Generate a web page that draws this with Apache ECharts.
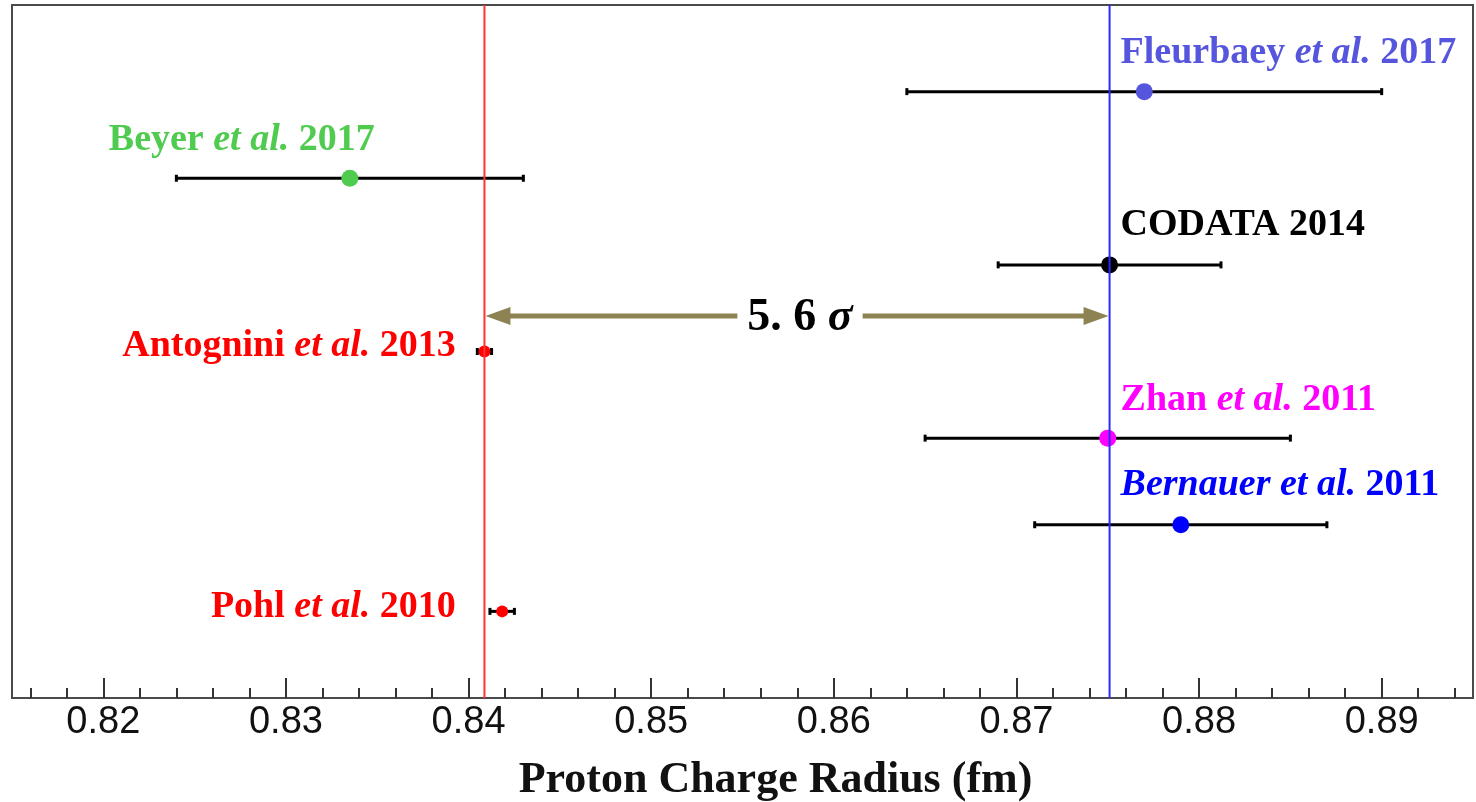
<!DOCTYPE html>
<html>
<head>
<meta charset="utf-8">
<script src="https://cdn.jsdelivr.net/npm/echarts@6/dist/echarts.min.js"></script>
<style>
  html, body { margin: 0; padding: 0; background: #fff; }
  #chart { width: 1476px; height: 802px; }
</style>
</head>
<body>
<div id="chart"></div>
<script>
// measurements, top row first
const authors = ['Fleurbaey', 'Beyer', 'CODATA', 'Antognini', 'Zhan', 'Bernauer', 'Pohl'];
const hasEtAl = [true, true, false, true, true, true, true];
const years = ['2017', '2017', '2014', '2013', '2011', '2011', '2010'];
const radius = [0.8770, 0.8335, 0.8751, 0.84087, 0.8750, 0.8790, 0.84184];
const uncertainty = [0.0130, 0.0095, 0.0061, 0.00039, 0.0100, 0.0080, 0.00067];
const rows = [7, 6, 5, 4, 3, 2, 1];

// axis ticks
const tickValues = [0.82, 0.83, 0.84, 0.85, 0.86, 0.87, 0.88, 0.89];
const minorTickValues = [0.816, 0.818, 0.822, 0.824, 0.826, 0.828, 0.832, 0.834, 0.836, 0.838,
  0.842, 0.844, 0.846, 0.848, 0.852, 0.854, 0.856, 0.858, 0.862, 0.864, 0.866, 0.868,
  0.872, 0.874, 0.876, 0.878, 0.882, 0.884, 0.886, 0.888, 0.892, 0.894];

// discrepancy between muonic (Antognini) and CODATA
const sigmaText = '5. 6';
const sigmaRow = 4.41;

// styling / layout
const colors = ['#5555dd', '#4fcb4f', '#000000', '#ff0000', '#ff00ff', '#0000ff', '#ff0000'];
const dotSize = [17, 17, 17, 12, 17, 17, 12];
const labelX = [0.8757, 0.8203, 0.8757, 0.8393, 0.8757, 0.8757, 0.8393];
const labelAlign = ['left', 'left', 'left', 'right', 'left', 'left', 'right'];
const labelDy = [-38, -38, -40, -5, -38, -40, -4];
const italicName = [false, false, false, false, false, true, false];
const serif = '"Liberation Serif", "Times New Roman", serif';
const labelSize = 38;

function richFor(color) {
  return {
    n: { fontFamily: serif, fontSize: labelSize, fontWeight: 'bold', color: color },
    i: { fontFamily: serif, fontSize: labelSize, fontWeight: 'bold', color: color, fontStyle: 'italic' }
  };
}

const labelData = authors.map((a, k) => {
  const nameTag = italicName[k] ? 'i' : 'n';
  let txt = '{' + nameTag + '|' + a + '}';
  if (hasEtAl[k]) txt += '{n| }{i|et al.}';
  txt += '{n| ' + years[k] + '}';
  return {
    value: [labelX[k], rows[k]],
    itemStyle: { opacity: 1 },
    label: {
      show: true,
      position: 'inside',
      align: labelAlign[k],
      verticalAlign: 'middle',
      offset: [0, labelDy[k]],
      formatter: txt,
      rich: richFor(colors[k])
    }
  };
});

const chart = echarts.init(document.getElementById('chart'));
chart.setOption({
  animation: false,
  backgroundColor: '#fff',
  grid: {
    left: 12, right: 3, top: 5, bottom: 104,
    show: true, borderColor: '#4a4a4a', borderWidth: 2,
    outerBoundsMode: 'none'
  },
  xAxis: [
    {
      type: 'value', min: 0.815, max: 0.895,
      splitLine: { show: false },
      axisLine: { show: true, lineStyle: { color: '#4a4a4a', width: 2 } },
      axisTick: { show: true, inside: true, length: 20, customValues: tickValues,
        lineStyle: { color: '#333', width: 2 } },
      axisLabel: { show: true, customValues: tickValues, margin: 6,
        formatter: v => v.toFixed(2),
        fontFamily: '"Liberation Sans", Arial, sans-serif', fontSize: 38, color: '#111' },
      name: 'Proton Charge Radius (fm)',
      nameLocation: 'middle',
      nameGap: 61,
      nameTextStyle: { fontFamily: serif, fontSize: 44, fontWeight: 'bold', color: '#111',
        padding: [0, 0, 0, 66] }
    },
    {
      type: 'value', min: 0.815, max: 0.895, position: 'bottom',
      splitLine: { show: false },
      axisLine: { show: false },
      axisLabel: { show: false },
      axisTick: { show: true, inside: true, length: 10, customValues: minorTickValues,
        lineStyle: { color: '#333', width: 2 } }
    }
  ],
  yAxis: { type: 'value', min: 0, max: 8, show: false, splitLine: { show: false } },
  series: [
    {
      // error bars
      type: 'custom',
      z: 2,
      data: radius.map((r, k) => [r, rows[k], uncertainty[k]]),
      renderItem: (params, api) => {
        const x = api.value(0), y = api.value(1), e = api.value(2);
        const p0 = api.coord([x - e, y]), p1 = api.coord([x + e, y]);
        const st = { stroke: '#000', lineWidth: 3 };
        return {
          type: 'group',
          children: [
            { type: 'line', shape: { x1: p0[0], y1: p0[1], x2: p1[0], y2: p1[1] }, style: st },
            { type: 'line', shape: { x1: p0[0], y1: p0[1] - 3.5, x2: p0[0], y2: p0[1] + 3.5 }, style: st },
            { type: 'line', shape: { x1: p1[0], y1: p1[1] - 3.5, x2: p1[0], y2: p1[1] + 3.5 }, style: st }
          ]
        };
      }
    },
    {
      // central values
      type: 'scatter',
      z: 3,
      data: radius.map((r, k) => ({
        value: [r, rows[k]],
        symbolSize: dotSize[k],
        itemStyle: { color: colors[k], opacity: 1 }
      }))
    },
    {
      // reference lines: muonic hydrogen (red) and CODATA (blue)
      type: 'custom',
      z: 4,
      data: [[radius[3]], [radius[2]]],
      renderItem: (params, api) => {
        const x = api.value(0);
        const a = api.coord([x, 0]), b = api.coord([x, 8]);
        return { type: 'line', shape: { x1: a[0], y1: a[1], x2: b[0], y2: b[1] },
          style: { stroke: params.dataIndex === 0 ? '#ff3333' : '#2a2aff', lineWidth: 2 } };
      }
    },
    {
      // 5.6 sigma arrow
      type: 'custom',
      z: 5,
      data: [[radius[3], radius[2], sigmaRow]],
      renderItem: (params, api) => {
        const a = api.coord([api.value(0), api.value(2)]);
        const b = api.coord([api.value(1), api.value(2)]);
        const c = '#8c8252', hl = 26, hw = 9;
        const mid = (a[0] + b[0]) / 2;
        return {
          type: 'group',
          children: [
            { type: 'line', shape: { x1: a[0] + hl - 2, y1: a[1], x2: b[0] - hl + 2, y2: b[1] },
              style: { stroke: c, lineWidth: 5 } },
            { type: 'polygon', shape: { points: [[a[0] + 1, a[1]], [a[0] + hl, a[1] - hw], [a[0] + hl, a[1] + hw]] },
              style: { fill: c } },
            { type: 'polygon', shape: { points: [[b[0] - 1, b[1]], [b[0] - hl, b[1] - hw], [b[0] - hl, b[1] + hw]] },
              style: { fill: c } },
            { type: 'text', x: mid + 3, y: a[1] + 2,
              style: {
                text: '{n|' + sigmaText + ' }{s|σ}',
                align: 'center', verticalAlign: 'middle',
                backgroundColor: '#fff', padding: [0, 10],
                rich: {
                  n: { fontFamily: serif, fontSize: 46, fontWeight: 'bold', fill: '#000' },
                  s: { fontFamily: serif, fontSize: 46, fontWeight: 'bold', fontStyle: 'italic', fill: '#000' }
                }
              } }
          ]
        };
      }
    },
    {
      // study labels
      type: 'scatter',
      z: 6,
      symbolSize: 0,
      silent: true,
      itemStyle: { opacity: 1 },
      data: labelData
    }
  ]
});
</script>
</body>
</html>
